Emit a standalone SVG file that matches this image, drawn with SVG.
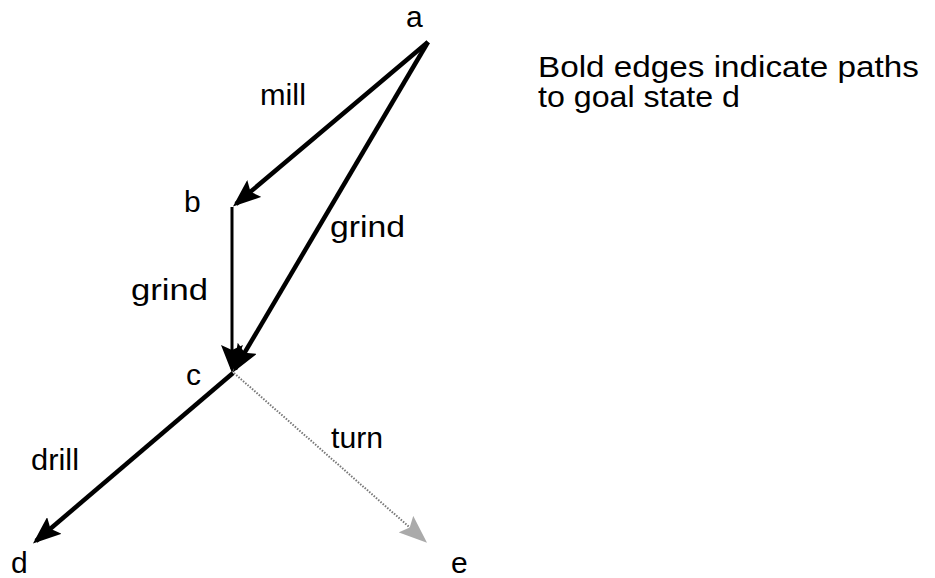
<svg xmlns="http://www.w3.org/2000/svg" width="935" height="578" viewBox="0 0 935 578">
<style>
text { font-family: "Liberation Sans", Arial, sans-serif; fill: #000; }
.node { font-size: 30px; }
.lbl { font-size: 30px; }
.note { font-size: 30px; }
.bold { fill: none; stroke: #000; stroke-width: 4.5; }
.thin { fill: none; stroke: #000; stroke-width: 3; }
.dot { fill: none; stroke: #777; stroke-width: 2; stroke-dasharray: 1.5 1.5; }
</style>
<defs>
<marker id="ah" markerUnits="userSpaceOnUse" viewBox="0 0 28 22" markerWidth="28" markerHeight="22" refX="24" refY="11" orient="auto">
<path d="M0,0 L28,11 L0,22 L5,11 z" fill="#000"/>
</marker>
<marker id="ahg" markerUnits="userSpaceOnUse" viewBox="0 0 28 22" markerWidth="28" markerHeight="22" refX="24" refY="11" orient="auto">
<path d="M0,0 L28,11 L0,22 L5,11 z" fill="#aaa"/>
</marker>
</defs>
<g id="connectors">
<line id="e-mill" class="bold" x1="428" y1="42" x2="236" y2="204" marker-end="url(#ah)"/>
<line id="e-grind-ac" class="bold" x1="428" y1="42" x2="235" y2="369" marker-end="url(#ah)"/>
<line id="e-grind-bc" class="thin" x1="232" y1="207" x2="232" y2="369" marker-end="url(#ah)"/>
<line id="e-drill" class="bold" x1="233" y1="373" x2="36" y2="541" marker-end="url(#ah)"/>
<line id="e-turn" class="dot" x1="234" y1="373" x2="424" y2="540" marker-end="url(#ahg)"/>
<text class="lbl" x="260" y="105" textLength="46" lengthAdjust="spacingAndGlyphs">mill</text>
<text class="lbl" x="330" y="237" textLength="75" lengthAdjust="spacingAndGlyphs">grind</text>
<text class="lbl" x="131" y="300" textLength="77" lengthAdjust="spacingAndGlyphs">grind</text>
<text class="lbl" x="31" y="470" textLength="48" lengthAdjust="spacingAndGlyphs">drill</text>
<text class="lbl" x="331" y="448" textLength="52" lengthAdjust="spacingAndGlyphs">turn</text>
</g>
<g id="node-a"><text class="node" x="406" y="27">a</text></g>
<g id="node-b"><text class="node" x="184" y="212">b</text></g>
<g id="node-c"><text class="node" x="186" y="385">c</text></g>
<g id="node-d"><text class="node" x="11" y="573">d</text></g>
<g id="node-e"><text class="node" x="451" y="573">e</text></g>
<g id="note">
<text class="note" x="538" y="77" textLength="381" lengthAdjust="spacingAndGlyphs">Bold edges indicate paths</text>
<text class="note" x="538" y="107" textLength="202" lengthAdjust="spacingAndGlyphs">to goal state d</text>
</g>
</svg>
